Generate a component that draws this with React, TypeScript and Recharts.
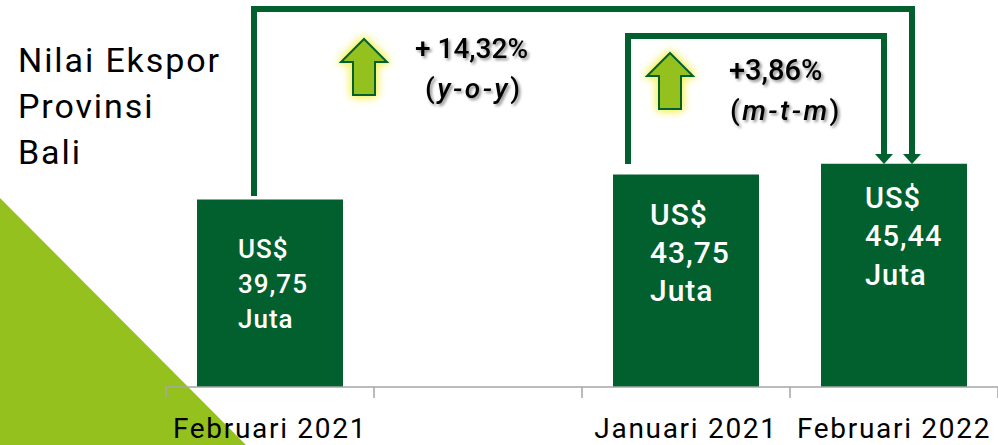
import { BarChart, Bar, XAxis, YAxis, LabelList, Customized } from 'recharts';

const categories = ['Februari 2021', '', 'Januari 2021', 'Februari 2022'];
const values = [39.75, null, 43.75, 45.44];
const valueLabels = ['39,75', '', '43,75', '45,44'];
const titleLines = ['Nilai Ekspor', 'Provinsi', 'Bali'];

const data = categories.map((name, i) => ({ name, value: values[i], label: valueLabels[i] }));

const GREEN = '#02602f';
const LIME = '#95c11f';
const GREY = '#a6a6a6';
const FONT = 'Roboto, sans-serif';
const BAND = 208;
const textShadow = { filter: 'drop-shadow(2px 2px 1.5px rgba(0,0,0,0.45))' };
const glow = { filter: 'drop-shadow(0 0 4px #f6f36a) drop-shadow(0 0 3px #f6f36a)' };

// label position inside each bar
const labelStyle = [
  { dx: 41, dy: 58, gap: 35, size: 26 },
  { dx: 0, dy: 0, gap: 0, size: 0 },
  { dx: 37, dy: 51, gap: 38, size: 30 },
  { dx: 44, dy: 44, gap: 38.5, size: 29 },
];

function BarLabel(props: any) {
  const { x, y, value } = props;
  const idx = valueLabels.indexOf(value);
  const s = labelStyle[idx];
  if (!s || !s.size) return null;
  const lines = ['US$', value, 'Juta'];
  return (
    <g>
      {lines.map((t: string, i: number) => (
        <text key={i} x={x + s.dx} y={y + s.dy + i * s.gap} fill="#fff" fontFamily={FONT} fontSize={s.size} fontWeight={500} letterSpacing={1}>
          {t}
        </text>
      ))}
    </g>
  );
}

// ticks sit on the band edges, labels in the band centre
function EdgeTick(props: any) {
  const { x, payload, index } = props;
  const axisY = 387;
  return (
    <g>
      <line x1={x - BAND / 2} x2={x - BAND / 2} y1={axisY} y2={axisY + 11} stroke={GREY} strokeWidth={1.5} />
      {index === categories.length - 1 && (
        <line x1={x + BAND / 2} x2={x + BAND / 2} y1={axisY} y2={axisY + 11} stroke={GREY} strokeWidth={1.5} />
      )}
      <text x={x} y={438} textAnchor="middle" fill="#000" fontFamily={FONT} fontSize={28} letterSpacing={1.7}>
        {payload.value}
      </text>
    </g>
  );
}

function UpArrow({ x, y }: { x: number; y: number }) {
  const pts = [[0, 0], [23, 23], [11, 23], [11, 56], [-11, 56], [-11, 23], [-23, 23]]
    .map(([a, b]) => `${x + a},${y + b}`)
    .join(' ');
  return <polygon points={pts} fill={LIME} stroke={GREEN} strokeWidth={2} style={glow} />;
}

function Annotations() {
  return (
    <g>
      <path d="M254 196 V9 H912 V156" fill="none" stroke={GREEN} strokeWidth={6} />
      <polygon points="903,154 921,154 912,164" fill={GREEN} />
      <path d="M628 164 V36 H884 V156" fill="none" stroke={GREEN} strokeWidth={6} />
      <polygon points="875,154 893,154 884,164" fill={GREEN} />
      <UpArrow x={364} y={39} />
      <UpArrow x={670} y={53} />
      <g fontFamily={FONT} fontSize={28} fill="#000" fontWeight={500} style={textShadow}>
        <text x={415} y={58}>+ 14,32%</text>
        <text x={425} y={98} letterSpacing={2.5}>(<tspan fontStyle="italic">y-o-y</tspan>)</text>
        <text x={729} y={80} fontSize={29}>+3,86%</text>
        <text x={730} y={120} letterSpacing={2.5}>(<tspan fontStyle="italic">m-t-m</tspan>)</text>
      </g>
      {titleLines.map((t, i) => (
        <text key={t} x={18} y={72 + i * 46} fontFamily={FONT} fontSize={34} fill="#000" letterSpacing={1.9}>
          {t}
        </text>
      ))}
    </g>
  );
}

export default function App() {
  return (
    <div style={{ position: 'absolute', left: 0, top: 0, width: 998, height: 445, background: '#fff', overflow: 'hidden' }}>
      <svg width={998} height={445} style={{ position: 'absolute', left: 0, top: 0 }}>
        <polygon points="0,198 246,445 0,445" fill={LIME} />
      </svg>
      <div style={{ position: 'absolute', left: 0, top: 0 }}>
        <BarChart width={998} height={445} data={data} margin={{ top: 135, right: 0, bottom: 0, left: 166 }} barCategoryGap={31}>
          <XAxis
            dataKey="name"
            interval={0}
            axisLine={{ stroke: GREY, strokeWidth: 1.5 }}
            tickLine={false}
            tick={EdgeTick}
            height={58}
          />
          <YAxis hide domain={[10, 50]} />
          <Bar dataKey="value" fill={GREEN} isAnimationActive={false}>
            <LabelList dataKey="label" content={BarLabel} />
          </Bar>
          <Customized component={Annotations} />
        </BarChart>
      </div>
    </div>
  );
}
